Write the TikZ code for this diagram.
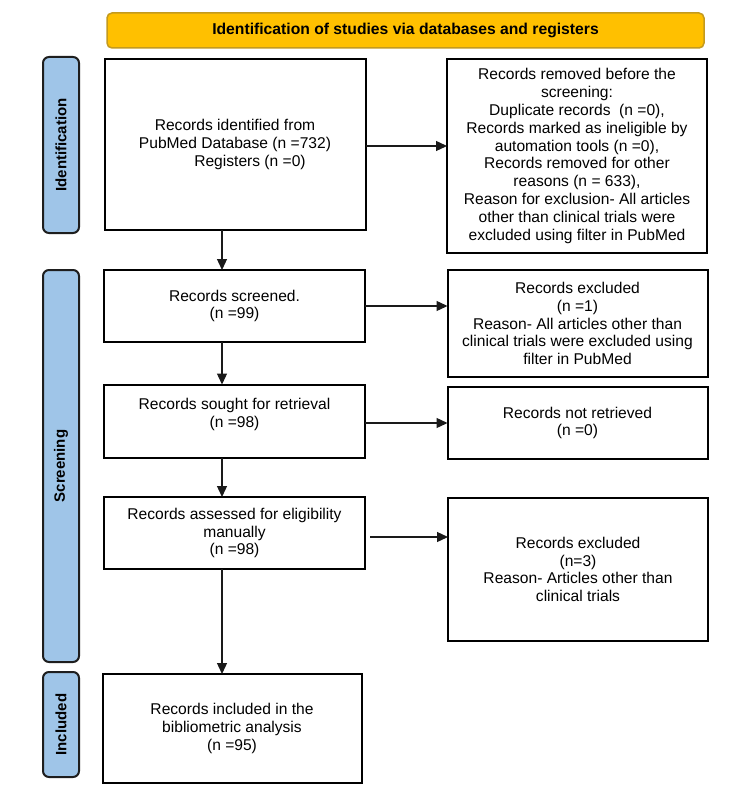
\documentclass[tikz,border=0pt]{standalone}
\usepackage{fontspec}
\setmainfont{Liberation Sans}
\usetikzlibrary{arrows.meta}
\definecolor{hdrfill}{HTML}{FFC000}
\definecolor{hdrline}{HTML}{C49A1E}
\definecolor{sidefill}{HTML}{9FC5E8}
\definecolor{sideline}{HTML}{1E1E1E}
\definecolor{arrcol}{HTML}{1A1A1A}
\begin{document}
\begin{tikzpicture}[x=1pt,y=-1pt,
  every node/.style={font=\fontsize{15.6}{17.8}\selectfont, inner sep=0pt, outer sep=0pt},
  box/.style={draw=black, line width=2pt, fill=white, align=center},
  hdr/.style={draw=hdrline, line width=1.5pt, fill=hdrfill, rounded corners=5pt, font=\fontsize{15.7}{18}\selectfont\bfseries},
  side/.style={draw=sideline, line width=2pt, fill=sidefill, rounded corners=6pt},
  sidelabel/.style={rotate=90, font=\fontsize{15}{18}\selectfont\bfseries},
  arr/.style={draw=arrcol, line width=1.3pt, -{Triangle[length=11pt,width=10pt]}}
]
\useasboundingbox (0,0) rectangle (750,810);
\fill[white] (0,0) rectangle (750,810);

% header
\node[hdr, minimum width=597pt, minimum height=35pt] (hdr) at (405.5,30.5) {Identification of studies via databases and registers};

% side bars
\node[side, minimum width=36pt, minimum height=176pt] (sid) at (61,145) {};
\node[sidelabel] (sidl) at (sid.center) {Identification};
\node[side, minimum width=36pt, minimum height=392pt] (ssc) at (61,466) {};
\node[sidelabel] (sscl) at (ssc.center) {Screening};
\node[side, minimum width=36pt, minimum height=105pt] (sin) at (61,724.5) {};
\node[sidelabel] (sinl) at (sin.center) {Included};

% left column
\node[box, minimum width=261pt, minimum height=171pt] (b1) at (235,144.5)
  {Records identified from\\PubMed Database (n =732)\\\hspace*{30pt}Registers (n =0)};
\node[box, minimum width=261pt, minimum height=72pt] (b2) at (234.5,306)
  {Records screened.\\(n =99)};
\node[box, minimum width=261pt, minimum height=73pt, text depth=16pt] (b3) at (234.5,421)
  {Records sought for retrieval\\(n =98)};
\node[box, minimum width=261pt, minimum height=72pt] (b4) at (234.5,533)
  {Records assessed for eligibility\\manually\\(n =98)};
\node[box, minimum width=259pt, minimum height=109pt] (b5) at (232,728.5)
  {Records included in the\\bibliometric analysis\\(n =95)};

% right column
\node[box, minimum width=260pt, minimum height=194pt] (r1) at (577,156)
  {Records removed before the\\screening:\\Duplicate records\ \ (n =0),\\Records marked as ineligible by\\automation tools (n =0),\\Records removed for other\\reasons (n = 633),\\Reason for exclusion- All articles\\other than clinical trials were\\excluded using filter in PubMed};
\node[box, minimum width=260pt, minimum height=107pt] (r2) at (577.5,323.5)
  {Records excluded\\(n =1)\\Reason- All articles other than\\clinical trials were excluded using\\filter in PubMed};
\node[box, minimum width=260pt, minimum height=72pt] (r3) at (577.5,423)
  {Records not retrieved\\(n =0)};
\node[box, minimum width=260pt, minimum height=143pt] (r4) at (578,569.5)
  {Records excluded\\(n=3)\\Reason- Articles other than\\clinical trials};

% horizontal arrows
\coordinate (a1) at ([yshift=-1.5pt]b1.east);
\draw[arr] (a1) -- (a1 -| r1.west);
\draw[arr] (b2.east) -- (b2.east -| r2.west);
\coordinate (a3) at ([yshift=-2pt]b3.east);
\draw[arr] (a3) -- (a3 -| r3.west);
\coordinate (a4) at ([xshift=5pt,yshift=-4pt]b4.east);
\draw[arr] (a4) -- (a4 -| r4.west);

% vertical arrows
\draw[arr] ([xshift=-13pt]b1.south) -- ([xshift=-12.5pt]b2.north);
\draw[arr] ([xshift=-12.5pt]b2.south) -- ([xshift=-12.5pt]b3.north);
\draw[arr] ([xshift=-12.5pt]b3.south) -- ([xshift=-12.5pt]b4.north);
\draw[arr] ([xshift=-12.5pt]b4.south) -- ([xshift=-10pt]b5.north);
\end{tikzpicture}
\end{document}
